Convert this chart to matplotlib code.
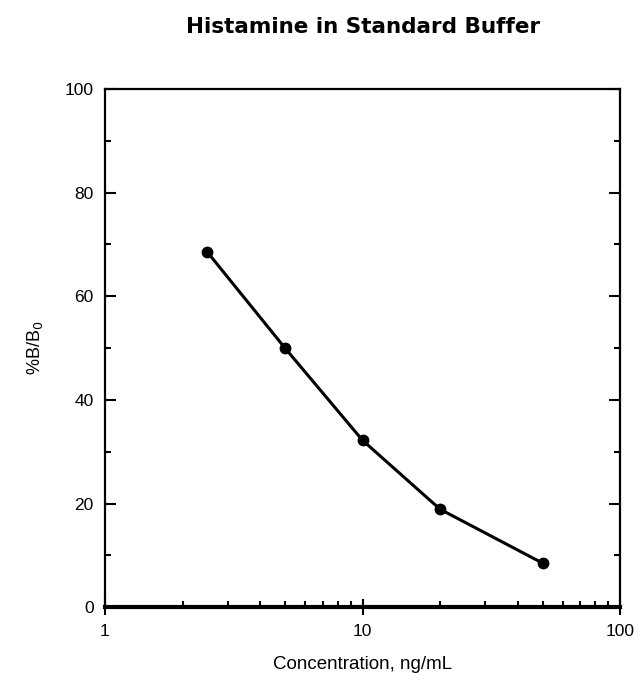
import matplotlib
matplotlib.use("Agg")
from matplotlib import pyplot as plt
from matplotlib.ticker import FixedLocator, NullFormatter

# data
conc = [2.5, 5, 10, 20, 50]
pct_b_b0 = [68.5, 50, 32.2, 18.9, 8.5]

x_ticks = [1, 10, 100]
x_labels = ["1", "10", "100"]
y_ticks = [0, 20, 40, 60, 80, 100]

plt.rcParams['font.family'] = ['Liberation Sans', 'DejaVu Sans']

fig = plt.figure(figsize=(6.44, 6.90), dpi=100)
ax = fig.add_axes([0.163, 0.120, 0.800, 0.751])

ax.plot(conc, pct_b_b0, color='black', lw=2.2, marker='o', ms=7.5, zorder=3)

ax.set_xscale('log')
ax.set_xlim(1, 100)
ax.set_ylim(0, 100)

ax.xaxis.set_major_locator(FixedLocator(x_ticks))
ax.set_xticklabels(x_labels)
minors = [m * d for d in (1, 10) for m in range(2, 10)]
ax.xaxis.set_minor_locator(FixedLocator(minors))
ax.xaxis.set_minor_formatter(NullFormatter())
ax.set_yticks(y_ticks)
ax.yaxis.set_minor_locator(FixedLocator([10, 30, 50, 70, 90]))

ax.tick_params(which='both', direction='in', top=False, right=True,
               labelsize=12.5, width=1.5)
ax.tick_params(which='major', length=8)
ax.tick_params(which='minor', length=4.5)
ax.tick_params(axis='y', which='major', pad=8)
ax.tick_params(axis='x', which='major', direction='inout', length=12, pad=6)

for s in ax.spines.values():
    s.set_linewidth(1.6)
ax.spines['bottom'].set_linewidth(3)

ax.set_xlabel("Concentration, ng/mL", fontsize=13.5, labelpad=12)
ax.set_ylabel("%B/B$_0$", fontsize=13, labelpad=14)
fig.text(0.563, 0.961, "Histamine in Standard Buffer", ha='center', va='center',
         fontsize=15.5, fontweight='bold', family='DejaVu Sans')

plt.savefig("out.png", dpi=100)
